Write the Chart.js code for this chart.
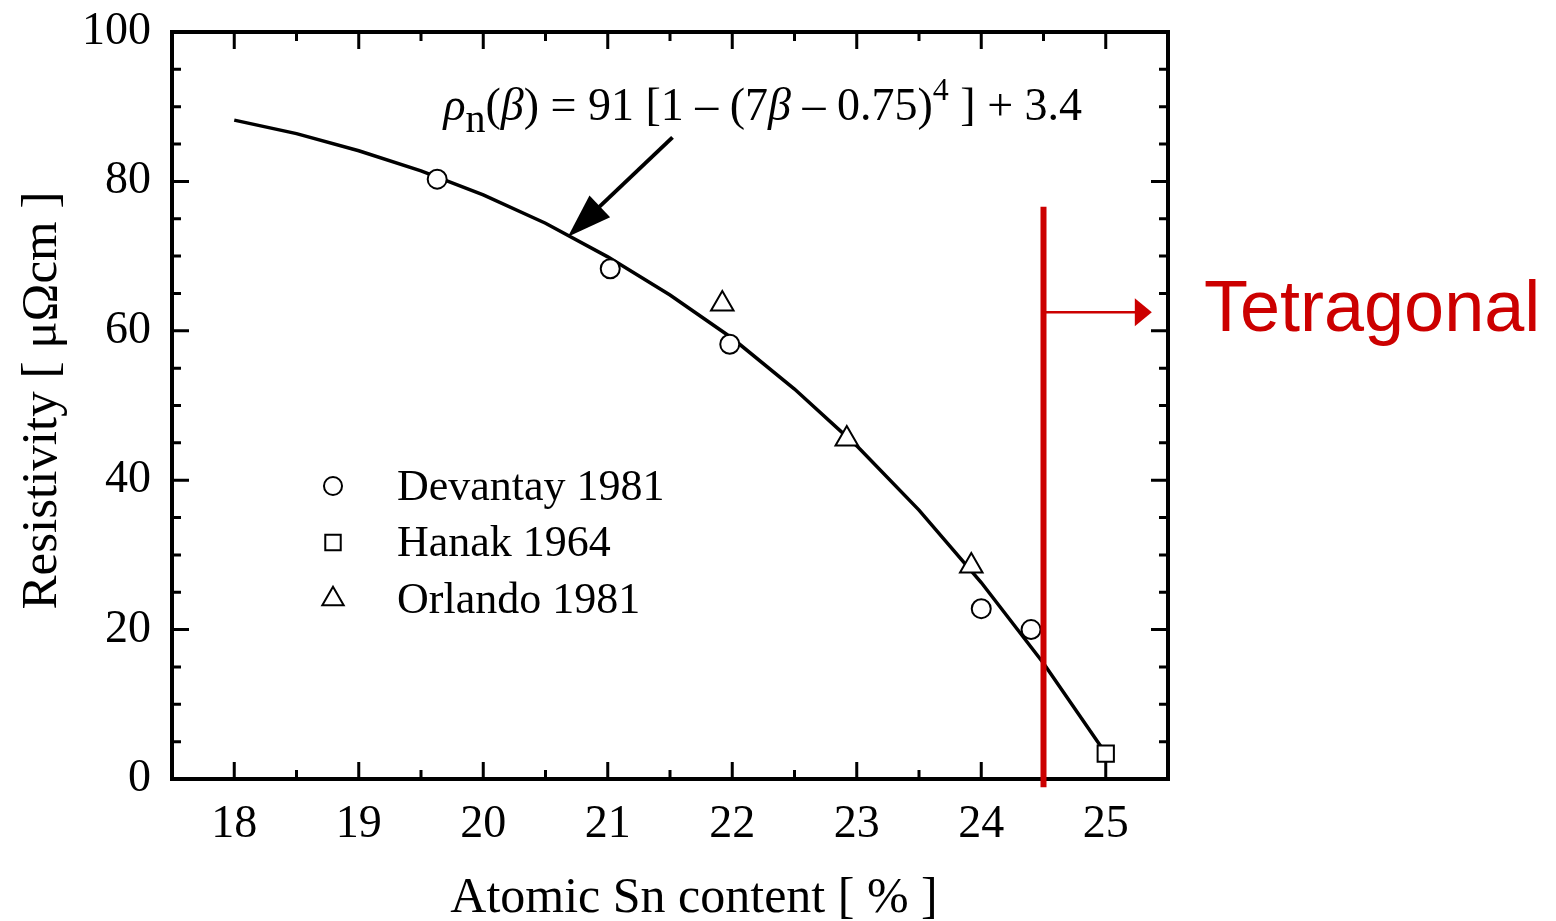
<!DOCTYPE html>
<html>
<head>
<meta charset="utf-8">
<script src="https://cdn.jsdelivr.net/npm/chart.js@4.4.1/dist/chart.umd.min.js"></script>
<style>
  html, body { margin: 0; padding: 0; background: #fff; }
  #wrap { width: 1556px; height: 921px; }
</style>
</head>
<body>
<div id="wrap"><canvas id="chart" width="1556" height="921"></canvas></div>
<script>
// fitted curve
const curveX = [18, 18.5, 19, 19.5, 20, 20.5, 21, 21.5, 22, 22.5, 23, 23.5, 24, 24.5, 25];
const curveY = [88.2, 86.4, 84.1, 81.4, 78.2, 74.4, 69.9, 64.8, 59.0, 52.2, 44.6, 36.0, 26.3, 15.5, 3.4];

// measured points
const devantayX = [19.63, 21.02, 21.98, 24.0, 24.4];
const devantayY = [80.3, 68.3, 58.2, 22.8, 20.0];
const hanakX = [25.0];
const hanakY = [3.4];
const orlandoX = [21.92, 22.92, 23.92];
const orlandoY = [63.6, 45.5, 28.5];

const xTicks = [18, 19, 20, 21, 22, 23, 24, 25];
const yTicks = [0, 20, 40, 60, 80, 100];
const legendLabels = ['Devantay 1981', 'Hanak 1964', 'Orlando 1981'];

const SERIF = '"Liberation Serif", "Times New Roman", serif';
const RED = '#cc0000';

const toPts = (xs, ys) => xs.map((x, i) => ({x: x, y: ys[i]}));

const markerStyles = [
    {pointStyle: 'circle', radius: 9.5},
    {pointStyle: 'rect', radius: 11.5},
    {pointStyle: 'triangle', radius: 13}
];

const drawArrowHead = (ctx, x0, y0, x1, y1, len, half) => {
    const a = Math.atan2(y1 - y0, x1 - x0);
    ctx.beginPath();
    ctx.moveTo(x1, y1);
    ctx.lineTo(x1 - len * Math.cos(a) + half * Math.sin(a), y1 - len * Math.sin(a) - half * Math.cos(a));
    ctx.lineTo(x1 - len * Math.cos(a) - half * Math.sin(a), y1 - len * Math.sin(a) + half * Math.cos(a));
    ctx.closePath();
    ctx.fill();
};

// frame, inward ticks, titles, legend and the annotations
const decorPlugin = {
    id: 'decor',
    afterDraw(chart) {
        const ctx = chart.ctx;
        const xs = chart.scales.x, ys = chart.scales.y;
        const a = chart.chartArea;
        ctx.save();
        ctx.strokeStyle = '#000';
        ctx.fillStyle = '#000';

        // ticks (inside, all four sides)
        ctx.lineWidth = 3;
        ctx.beginPath();
        for (let v = 17.5; v <= 25.5001; v += 0.5) {
            const px = xs.getPixelForValue(v);
            const len = Math.abs(v - Math.round(v)) < 1e-6 ? 17 : 9;
            ctx.moveTo(px, a.bottom); ctx.lineTo(px, a.bottom - len);
            ctx.moveTo(px, a.top); ctx.lineTo(px, a.top + len);
        }
        for (let v = 0; v <= 100; v += 5) {
            const py = ys.getPixelForValue(v);
            const len = v % 20 === 0 ? 17 : 9;
            ctx.moveTo(a.left, py); ctx.lineTo(a.left + len, py);
            ctx.moveTo(a.right, py); ctx.lineTo(a.right - len, py);
        }
        ctx.stroke();

        // frame
        ctx.lineWidth = 4;
        ctx.strokeRect(a.left, a.top, a.right - a.left, a.bottom - a.top);

        // axis titles
        ctx.font = '50px ' + SERIF;
        ctx.textAlign = 'center';
        ctx.textBaseline = 'alphabetic';
        ctx.fillText('Atomic Sn content [ % ]', (a.left + a.right) / 2 + 24, 912);
        ctx.save();
        ctx.font = '51px ' + SERIF;
        ctx.translate(56, (a.top + a.bottom) / 2 - 5);
        ctx.rotate(-Math.PI / 2);
        ctx.fillText('Resistivity [ \u03bc\u03a9cm ]', 0, 0);
        ctx.restore();

        // legend
        ctx.font = '44px ' + SERIF;
        ctx.textAlign = 'left';
        ctx.textBaseline = 'middle';
        legendLabels.forEach((lab, i) => {
            const y = 486 + i * 56.5;
            const ds = chart.data.datasets[i];
            ctx.lineWidth = 2;
            ctx.fillStyle = '#fff';
            ctx.strokeStyle = '#000';
            Chart.helpers.drawPoint(ctx, {pointStyle: ds.pointStyle, radius: ds.pointRadius * 0.95, borderWidth: 2}, 333, y);
            ctx.fillStyle = '#000';
            ctx.fillText(lab, 397, y + 2);
        });

        // formula annotation
        const fx = xs.getPixelForValue(19.68), fy = ys.getPixelForValue(88.2);
        const parts = [
            ['\u03c1', 'i'], ['n', 'sub'], ['(', 'n'], ['\u03b2', 'i'], [') = 91 [1 \u2013 (7', 'n'],
            ['\u03b2', 'i'], [' \u2013 0.75)', 'n'], ['4', 'sup'], [' ] + 3.4', 'n']
        ];
        let cx = fx;
        ctx.textBaseline = 'alphabetic';
        parts.forEach(([t, s]) => {
            let f = '46px ' + SERIF, dy = 0;
            if (s === 'i') f = 'italic 46px ' + SERIF;
            if (s === 'sub') { f = '40px ' + SERIF; dy = 12; }
            if (s === 'sup') { f = '32px ' + SERIF; dy = -20; }
            ctx.font = f;
            ctx.fillText(t, cx, fy + dy);
            cx += ctx.measureText(t).width;
        });

        // black arrow to the curve
        const ax0 = xs.getPixelForValue(21.52), ay0 = ys.getPixelForValue(85.9);
        const ax1 = xs.getPixelForValue(20.68), ay1 = ys.getPixelForValue(72.6);
        ctx.lineWidth = 4;
        ctx.beginPath();
        ctx.moveTo(ax0, ay0);
        ctx.lineTo(ax0 + (ax1 - ax0) * 0.7, ay0 + (ay1 - ay0) * 0.7);
        ctx.stroke();
        drawArrowHead(ctx, ax0, ay0, ax1, ay1, 44, 15);

        // phase boundary and tetragonal label
        const rx = xs.getPixelForValue(24.5);
        ctx.strokeStyle = RED;
        ctx.fillStyle = RED;
        ctx.lineWidth = 6;
        ctx.beginPath();
        ctx.moveTo(rx, ys.getPixelForValue(76.6));
        ctx.lineTo(rx, ys.getPixelForValue(-1.1));
        ctx.stroke();
        const ay = ys.getPixelForValue(62.5);
        const tip = xs.getPixelForValue(25.37);
        ctx.lineWidth = 2.5;
        ctx.beginPath();
        ctx.moveTo(rx, ay);
        ctx.lineTo(tip - 10, ay);
        ctx.stroke();
        drawArrowHead(ctx, rx, ay, tip, ay, 17, 14);
        ctx.font = '72px "Liberation Sans", Arial, sans-serif';
        ctx.textAlign = 'left';
        ctx.textBaseline = 'alphabetic';
        ctx.fillText('Tetragonal', a.right + 36, 331);
        ctx.restore();
    }
};

const pointDs = (label, xsArr, ysArr, m) => ({
    label: label,
    data: toPts(xsArr, ysArr),
    pointStyle: m.pointStyle,
    pointRadius: m.radius,
    pointHoverRadius: m.radius,
    pointBackgroundColor: '#fff',
    pointBorderColor: '#000',
    pointBorderWidth: 2,
    showLine: false
});

new Chart(document.getElementById('chart'), {
    type: 'scatter',
    data: {
        datasets: [
            pointDs(legendLabels[0], devantayX, devantayY, markerStyles[0]),
            pointDs(legendLabels[1], hanakX, hanakY, markerStyles[1]),
            pointDs(legendLabels[2], orlandoX, orlandoY, markerStyles[2]),
            {
                label: 'fit',
                data: toPts(curveX, curveY),
                showLine: true,
                borderColor: '#000',
                borderWidth: 3.5,
                pointRadius: 0,
                tension: 0,
                fill: false
            }
        ]
    },
    options: {
        responsive: false,
        animation: false,
        maintainAspectRatio: false,
        layout: { padding: { top: 32, right: 388, left: 0, bottom: 0 } },
        plugins: { legend: { display: false }, tooltip: { enabled: false } },
        scales: {
            x: {
                type: 'linear',
                min: 17.5,
                max: 25.5,
                afterBuildTicks: s => { s.ticks = xTicks.map(v => ({value: v})); },
                afterFit: s => { s.height = 142; s.paddingLeft = 0; s.paddingRight = 0; },
                grid: { display: false, drawTicks: false },
                border: { display: false },
                ticks: { color: '#000', font: { family: SERIF, size: 46 }, padding: 18, maxRotation: 0 }
            },
            y: {
                min: 0,
                max: 100,
                afterBuildTicks: s => { s.ticks = yTicks.map(v => ({value: v})); },
                afterFit: s => { s.width = 172; s.paddingTop = 0; s.paddingBottom = 0; },
                grid: { display: false, drawTicks: false },
                border: { display: false },
                ticks: { color: '#000', font: { family: SERIF, size: 46 }, padding: 21 }
            }
        }
    },
    plugins: [decorPlugin]
});
</script>
</body>
</html>
